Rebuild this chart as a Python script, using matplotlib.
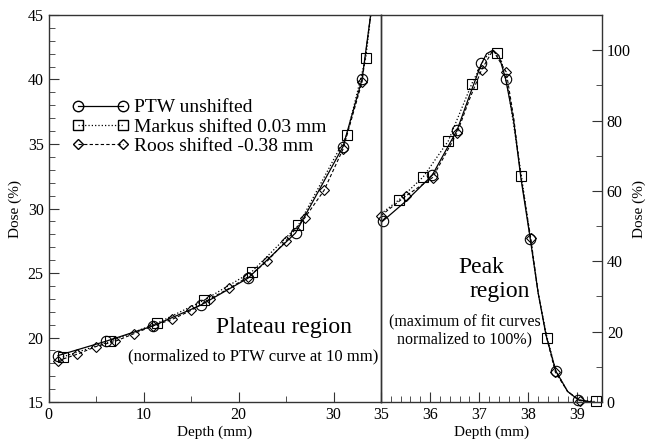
import matplotlib
matplotlib.use('Agg')
import matplotlib.pyplot as plt
from matplotlib.ticker import MultipleLocator

plt.rcParams['font.family'] = ['Liberation Serif', 'DejaVu Serif']

# ---- plateau region (left panel) ----
ptw_x = [1, 6, 11, 16, 21, 26, 31, 33]
ptw_y = [18.6, 19.7, 20.9, 22.5, 24.6, 28.1, 34.8, 40.0]
ptw_line_x = [1, 6, 11, 16, 21, 26, 31, 33, 34.0]
ptw_line_y = [18.6, 19.7, 20.9, 22.5, 24.6, 28.1, 34.8, 40.0, 45.5]

markus_x = [1.5, 6.5, 11.4, 16.4, 21.4, 26.3, 31.4, 33.4]
markus_y = [18.5, 19.7, 21.1, 22.9, 25.1, 28.7, 35.7, 41.7]
markus_line_x = [1.5, 6.5, 11.4, 16.4, 21.4, 26.3, 31.4, 33.4, 34.0]
markus_line_y = [18.5, 19.7, 21.1, 22.9, 25.1, 28.7, 35.7, 41.7, 45.5]

roos_x = [1, 3, 5, 7, 9, 11, 13, 15, 17, 19, 21, 23, 25, 27, 29, 31, 33]
roos_y = [18.2, 18.7, 19.3, 19.7, 20.3, 20.9, 21.4, 22.1, 23.0, 23.8, 24.7,
          25.9, 27.5, 29.3, 31.4, 34.6, 39.8]
roos_line_x = roos_x + [34.0]
roos_line_y = roos_y + [45.5]

# ---- peak region (right panel) ----
ptw_pk_x = [35.05, 36.04, 36.55, 37.04, 37.54, 38.04, 38.56, 39.02]
ptw_pk_y = [51.4, 64.4, 77.3, 96.3, 91.7, 46.3, 8.8, 0.6]
ptw_pk_line_x = [35.0, 35.5, 36.04, 36.55, 36.8, 37.04, 37.15, 37.28, 37.4,
                 37.54, 37.7, 37.85, 38.04, 38.2, 38.36, 38.56, 38.8, 39.02, 39.3]
ptw_pk_line_y = [51.0, 57.0, 64.4, 77.3, 87.0, 96.0, 99.0, 100.0, 98.5,
                 91.7, 80.0, 63.5, 46.3, 31.0, 19.0, 8.8, 3.0, 0.6, 0.0]

markus_pk_x = [35.37, 35.86, 36.37, 36.85, 37.36, 37.86, 38.37, 39.37]
markus_pk_y = [57.5, 64.0, 74.2, 90.5, 99.1, 64.2, 18.1, 0.2]
markus_pk_line_x = [35.0, 35.37, 35.86, 36.37, 36.85, 37.1, 37.28, 37.45,
                    37.6, 37.86, 38.04, 38.2, 38.37, 38.56, 38.8, 39.02, 39.37]
markus_pk_line_y = [53.5, 57.5, 64.0, 74.2, 90.5, 97.5, 100.0, 97.0,
                    88.0, 64.2, 46.5, 31.0, 19.0, 8.8, 3.0, 0.6, 0.1]

roos_pk_x = [35.0, 35.5, 36.05, 36.55, 37.05, 37.55, 38.05, 38.55, 39.05]
roos_pk_y = [53.0, 58.5, 63.8, 76.5, 94.5, 93.8, 46.5, 8.5, 0.4]
roos_pk_line_x = [35.0, 35.5, 36.05, 36.55, 36.8, 37.05, 37.28, 37.55,
                  37.7, 37.85, 38.05, 38.2, 38.36, 38.55, 38.8, 39.05, 39.3]
roos_pk_line_y = [53.0, 58.5, 63.8, 76.5, 86.0, 94.5, 100.0, 93.8,
                  81.0, 64.0, 46.5, 31.0, 19.0, 8.5, 3.0, 0.4, 0.0]

ink = 'black'
spine_col = '#333333'

fig = plt.figure(figsize=(6.46, 4.41), dpi=100)
ax = fig.add_axes([0.0751, 0.0884, 0.5147, 0.8776])
ax2 = fig.add_axes([0.5898, 0.0884, 0.3421, 0.8776])

mk = dict(mfc='none', mec=ink, mew=0.8)

# left panel: curves, then markers
ax.plot(ptw_line_x, ptw_line_y, '-', color=ink, lw=0.9)
ax.plot(markus_line_x, markus_line_y, ':', color=ink, lw=0.9)
ax.plot(roos_line_x, roos_line_y, '--', color=ink, lw=0.8, dashes=(3, 2))
ax.plot(ptw_x, ptw_y, 'o', ms=7.5, **mk)
ax.plot(markus_x, markus_y, 's', ms=7, **mk)
ax.plot(roos_x, roos_y, 'D', ms=5.5, **mk)

# right panel
ax2.plot(ptw_pk_line_x, ptw_pk_line_y, '-', color=ink, lw=0.9)
ax2.plot(markus_pk_line_x, markus_pk_line_y, ':', color=ink, lw=0.9)
ax2.plot(roos_pk_line_x, roos_pk_line_y, '--', color=ink, lw=0.8, dashes=(3, 2))
ax2.plot(ptw_pk_x, ptw_pk_y, 'o', ms=7.5, clip_on=False, **mk)
ax2.plot(markus_pk_x, markus_pk_y, 's', ms=7, clip_on=False, **mk)
ax2.plot(roos_pk_x, roos_pk_y, 'D', ms=5.5, clip_on=False, **mk)

# legend handles: line with a marker at each end
h1, = ax.plot([], [], '-o', color=ink, lw=0.9, ms=7.5, mfc='none', mec=ink)
h2, = ax.plot([], [], ':s', color=ink, lw=0.9, ms=7, mfc='none', mec=ink)
h3, = ax.plot([], [], '--D', color=ink, lw=0.8, ms=5.5, mfc='none', mec=ink,
              dashes=(3, 2))
ax.legend([h1, h2, h3],
          ['PTW unshifted', 'Markus shifted 0.03 mm', 'Roos shifted -0.38 mm'],
          loc='center left', bbox_to_anchor=(0.071, 0.711), frameon=False,
          fontsize=14, numpoints=2, handlelength=2.9, handletextpad=0.3,
          labelspacing=0.08, borderpad=0, borderaxespad=0)

# axes limits and ticks
ax.set_xlim(0, 35)
ax.set_ylim(15, 45)
ax.xaxis.set_major_locator(MultipleLocator(10))
ax.xaxis.set_minor_locator(MultipleLocator(5))
ax.yaxis.set_major_locator(MultipleLocator(5))
ax.yaxis.set_minor_locator(MultipleLocator(1))
ax.tick_params(which='both', direction='in', top=False, right=False,
               labelsize=11.5, color=spine_col)
ax.tick_params(which='major', length=7)
ax.tick_params(which='minor', length=4)
ax.set_xticks([0, 10, 20, 30])

ax2.set_xlim(35, 39.5)
ax2.set_ylim(0, 110)
ax2.xaxis.set_major_locator(MultipleLocator(1))
ax2.xaxis.set_minor_locator(MultipleLocator(0.2))
ax2.yaxis.set_major_locator(MultipleLocator(20))
ax2.yaxis.set_minor_locator(MultipleLocator(10))
ax2.yaxis.tick_right()
ax2.yaxis.set_label_position('right')
ax2.tick_params(which='both', direction='in', top=False, left=False,
                labelsize=11.5, color=spine_col)
ax2.tick_params(which='major', length=7)
ax2.tick_params(which='minor', length=4)
ax2.patch.set_visible(False)

for a in (ax, ax2):
    for s in a.spines.values():
        s.set_color(spine_col)
        s.set_linewidth(1.0)

ax.set_xlabel('Depth (mm)', fontsize=11, labelpad=2)
ax.set_ylabel('Dose (%)', fontsize=11, labelpad=4)
ax2.set_xlabel('Depth (mm)', fontsize=11, labelpad=2)
ax2.set_ylabel('Dose (%)', fontsize=11, labelpad=1)

# annotations
ax.text(24.8, 20.8, 'Plateau region', fontsize=17, ha='center', va='center')
ax.text(21.5, 18.5, '(normalized to PTW curve at 10 mm)', fontsize=12,
        ha='center', va='center')
ax2.text(37.04, 38.2, 'Peak', fontsize=17, ha='center', va='center')
ax2.text(37.42, 31.4, 'region', fontsize=17, ha='center', va='center')
ax2.text(36.7, 20.3, '(maximum of fit curves\nnormalized to 100%)',
         fontsize=11.5, ha='center', va='center', linespacing=1.1)

fig.savefig('out.png', dpi=100)
